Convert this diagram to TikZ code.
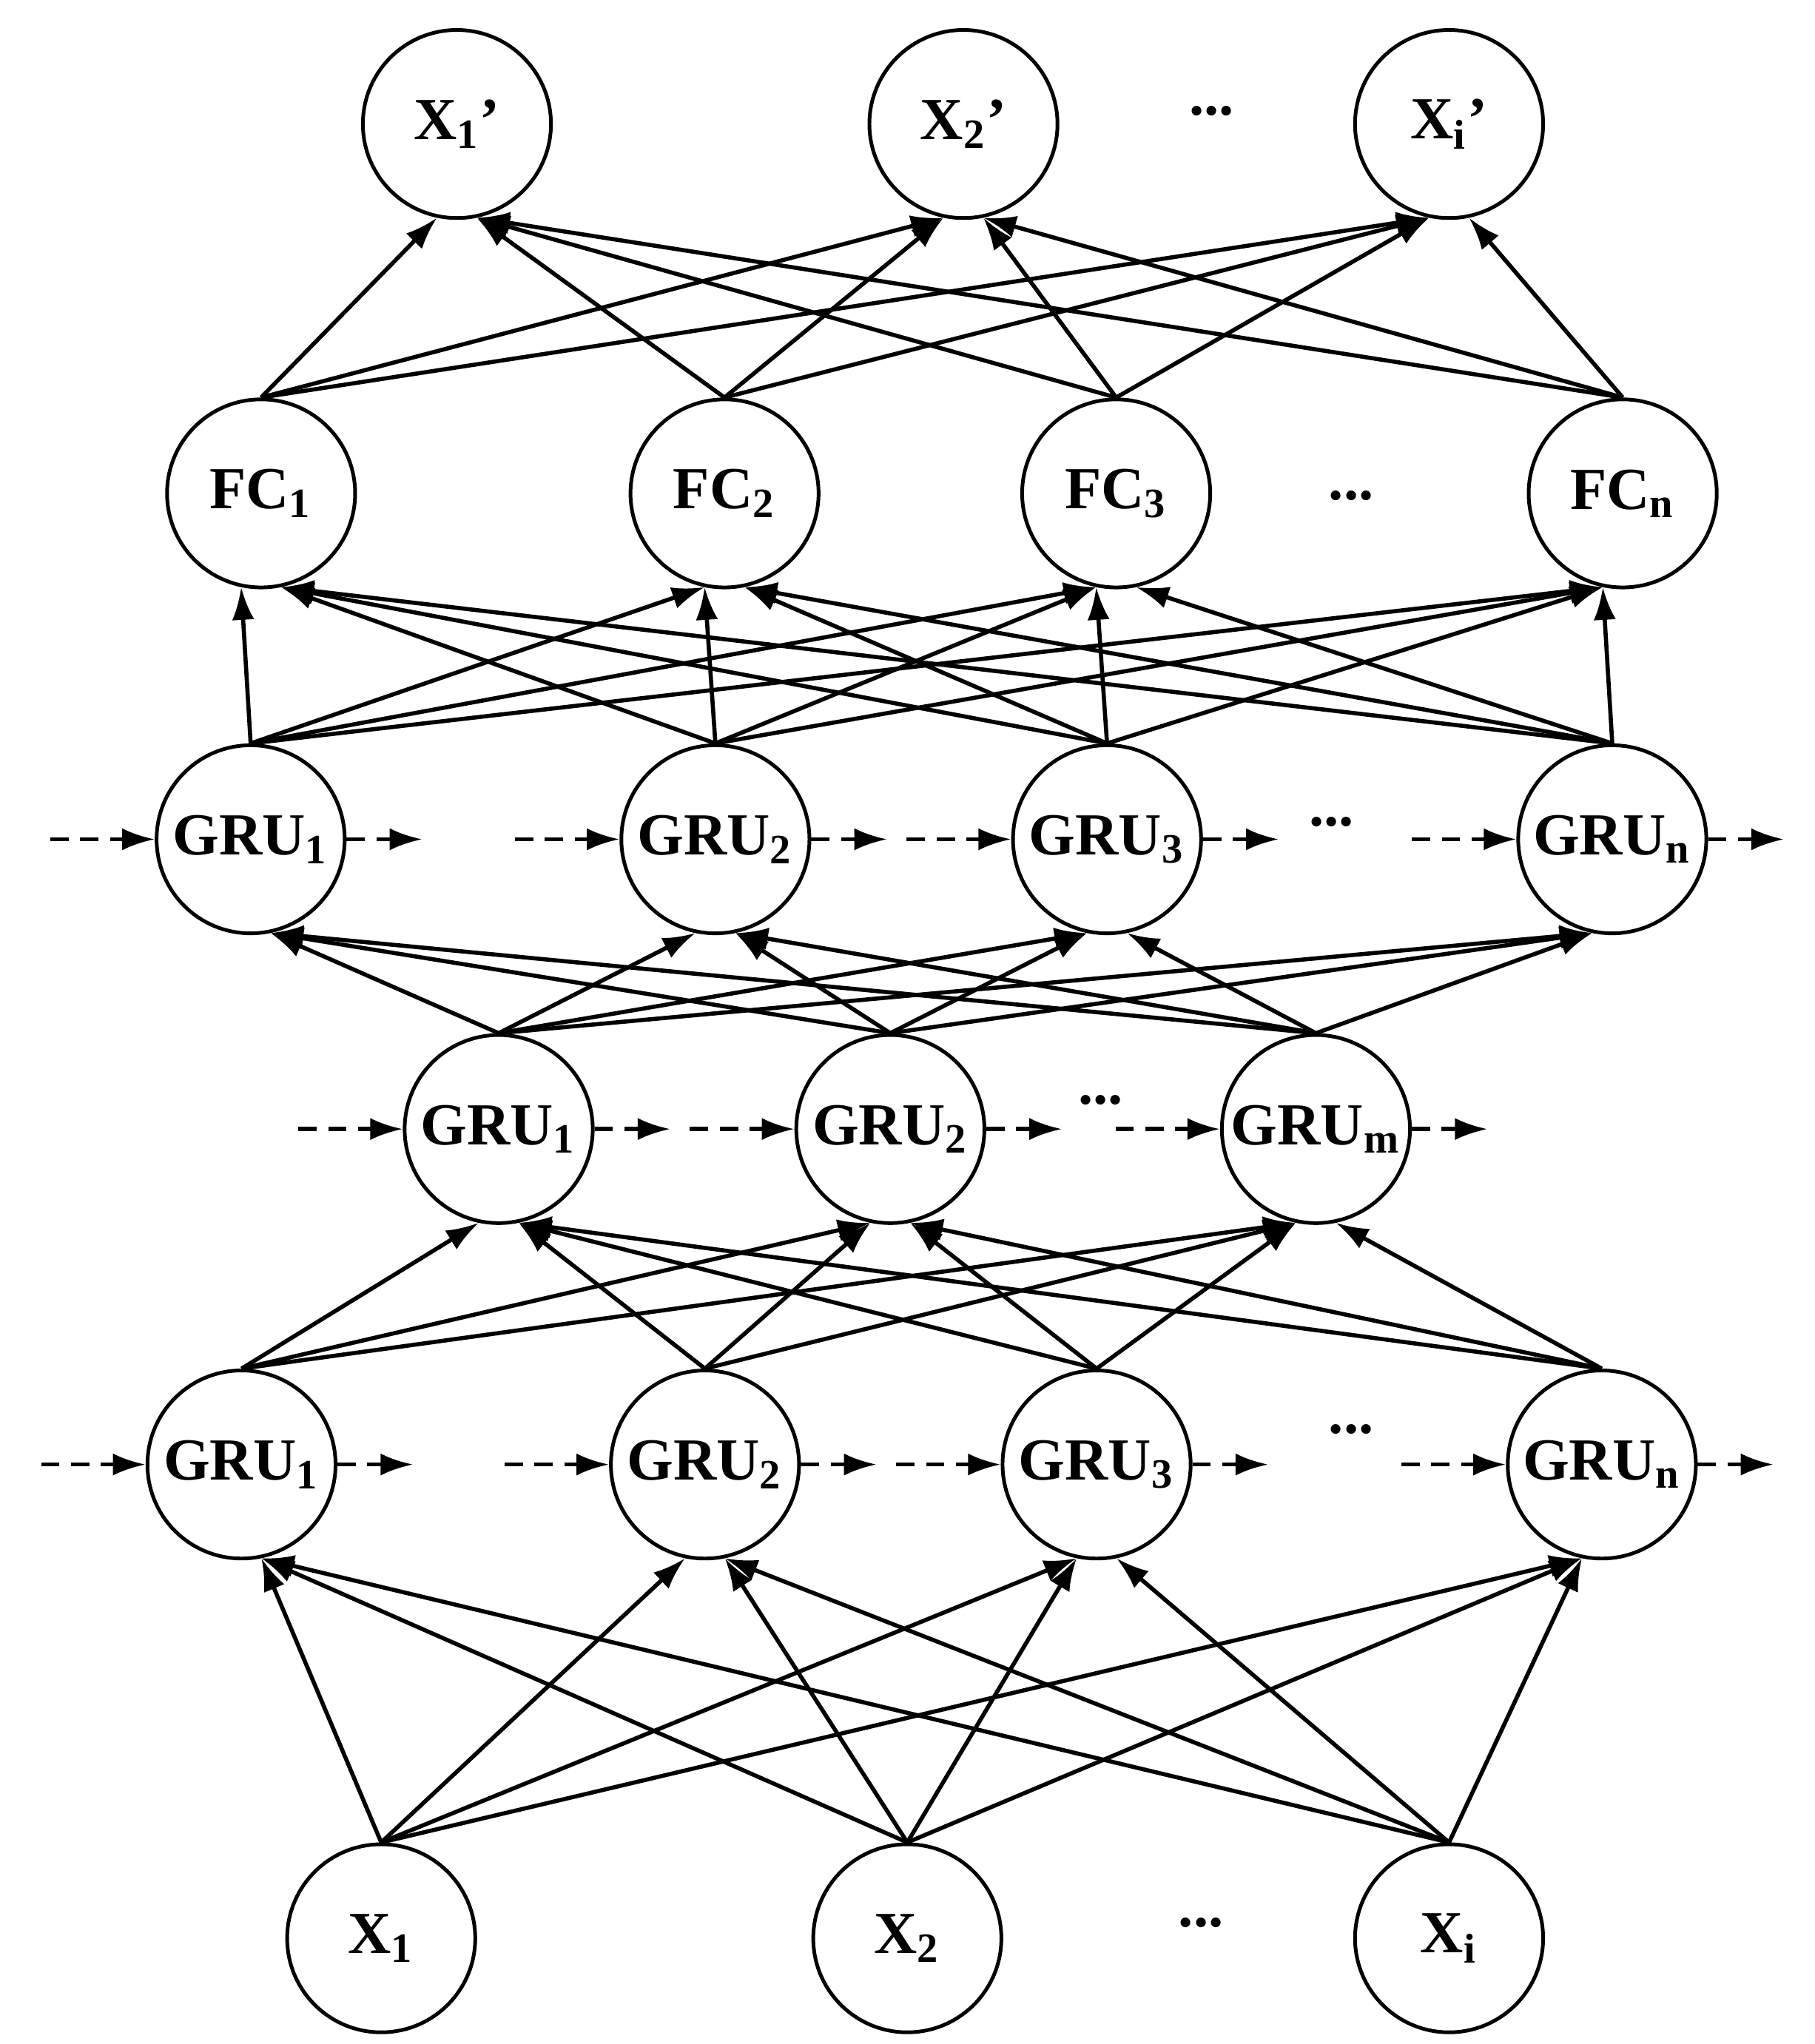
\documentclass[tikz,border=0pt]{standalone}
\usepackage{fontspec}
\setmainfont{Liberation Serif}
\usetikzlibrary{arrows.meta}
\begin{document}
\begin{tikzpicture}[x=0.01cm,y=-0.01cm,
  n/.style={circle,draw,line width=0.8pt,minimum size=1.44cm,inner sep=0pt,font=\fontsize{13}{15}\selectfont\bfseries},
  arr/.style={line width=0.9pt,-{Latex[length=0.25cm,width=0.17cm]}},
  das/.style={arr,dashed,dash pattern=on 4pt off 2.5pt},
  dots/.style={font=\fontsize{13}{15}\selectfont\bfseries}]
\useasboundingbox (0,0) rectangle (1390,1566);
% nodes
\node[n] (o1) at (350,95) {X\textsubscript{1}'};
\node[n] (o2) at (738,95) {X\textsubscript{2}'};
\node[n] (o3) at (1110,95) {X\textsubscript{i}'};
\node[dots] (d1) at (928,85) {...};
\node[n] (f1) at (200,378) {FC\textsubscript{1}};
\node[n] (f2) at (555,378) {FC\textsubscript{2}};
\node[n] (f3) at (855,378) {FC\textsubscript{3}};
\node[n] (f4) at (1243,378) {FC\textsubscript{n}};
\node[dots] (d2) at (1035,380) {...};
\node[n] (a1) at (192,643) {GRU\textsubscript{1}};
\node[n] (a2) at (548,643) {GRU\textsubscript{2}};
\node[n] (a3) at (848,643) {GRU\textsubscript{3}};
\node[n] (a4) at (1235,643) {GRU\textsubscript{n}};
\node[dots] (d3) at (1020,630) {...};
\node[n] (b1) at (382,865) {GRU\textsubscript{1}};
\node[n] (b2) at (682,865) {GRU\textsubscript{2}};
\node[n] (b3) at (1008,865) {GRU\textsubscript{m}};
\node[dots] (d4) at (843,843) {...};
\node[n] (c1) at (185,1122) {GRU\textsubscript{1}};
\node[n] (c2) at (540,1122) {GRU\textsubscript{2}};
\node[n] (c3) at (840,1122) {GRU\textsubscript{3}};
\node[n] (c4) at (1227,1122) {GRU\textsubscript{n}};
\node[dots] (d5) at (1035,1095) {...};
\node[n] (x1) at (292,1485) {X\textsubscript{1}};
\node[n] (x2) at (695,1485) {X\textsubscript{2}};
\node[n] (x3) at (1110,1485) {X\textsubscript{i}};
\node[dots] (d6) at (920,1473) {...};
% full connections
\foreach \s/\sx in {x1/292,x2/695,x3/1110}{\foreach \t/\tx in {c1/185,c2/540,c3/840,c4/1227}{
  \pgfmathsetmacro\ang{-90-12*sign(\tx-\sx)}
  \draw[arr] (\s.north) -- (\t.\ang);}}
\foreach \s/\sx in {c1/185,c2/540,c3/840,c4/1227}{\foreach \t/\tx in {b1/382,b2/682,b3/1008}{
  \pgfmathsetmacro\ang{-90-12*sign(\tx-\sx)}
  \draw[arr] (\s.north) -- (\t.\ang);}}
\foreach \s/\sx in {b1/382,b2/682,b3/1008}{\foreach \t/\tx in {a1/192,a2/548,a3/848,a4/1235}{
  \pgfmathsetmacro\ang{-90-12*sign(\tx-\sx)}
  \draw[arr] (\s.north) -- (\t.\ang);}}
\foreach \s/\sx in {a1/192,a2/548,a3/848,a4/1235}{\foreach \t/\tx in {f1/200,f2/555,f3/855,f4/1243}{
  \pgfmathsetmacro\ang{-90-12*sign(\tx-\sx)}
  \draw[arr] (\s.north) -- (\t.\ang);}}
\foreach \s/\sx in {f1/200,f2/555,f3/855,f4/1243}{\foreach \t/\tx in {o1/350,o2/738,o3/1110}{
  \pgfmathsetmacro\ang{-90-12*sign(\tx-\sx)}
  \draw[arr] (\s.north) -- (\t.\ang);}}
% dashed recurrences
\foreach \t in {a1,a2,a3,a4,b1,b2,b3,c1,c2,c3,c4}{
  \coordinate (\t-in) at ([xshift=-0.8cm]\t.west);
  \coordinate (\t-out) at ([xshift=0.58cm]\t.east);
  \draw[das] (\t-in) -- (\t.west);
  \draw[das] (\t.east) -- (\t-out);}
\end{tikzpicture}
\end{document}
